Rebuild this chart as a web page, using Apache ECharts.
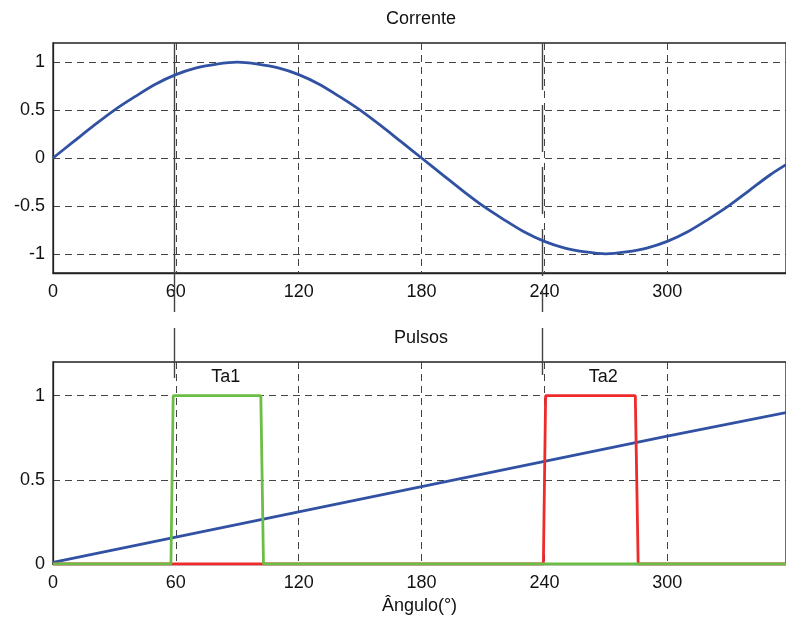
<!DOCTYPE html>
<html>
<head>
<meta charset="utf-8">
<script src="https://cdn.jsdelivr.net/npm/echarts@6/dist/echarts.min.js"></script>
<style>
html,body{margin:0;padding:0;background:#fff;}
#chart{width:786px;height:619px;}
</style>
</head>
<body>
<div id="chart"></div>
<script>
// ---- data ----
const xTicks = [0, 60, 120, 180, 240, 300];
const topYTicks = [-1, -0.5, 0, 0.5, 1];
const bottomYTicks = [0, 0.5, 1];

const currentAngles = [0,10,20,30,40,50,60,70,80,90,100,110,120,130,140,150,160,170,180,190,200,210,220,230,240,250,260,270,280,290,300,310,320,330,340,350,358];
const currentValues = [0,0.17,0.34,0.5,0.64,0.77,0.87,0.94,0.98,1,0.98,0.94,0.87,0.77,0.64,0.5,0.34,0.17,0,-0.17,-0.34,-0.5,-0.64,-0.77,-0.87,-0.94,-0.98,-1,-0.98,-0.94,-0.87,-0.77,-0.64,-0.5,-0.34,-0.18,-0.07];

const rampAngles = [0, 60, 120, 180, 240, 300, 358];
const rampValues = [0.01, 0.16, 0.31, 0.46, 0.61, 0.76, 0.9];

const ta1Angles = [0, 57.6, 58.7, 101.5, 102.8, 358];
const ta1Values = [0, 0, 1, 1, 0, 0];

const ta2Angles = [0, 239.5, 240.6, 284.4, 285.8, 358];
const ta2Values = [0, 0, 1, 1, 0, 0];

const pulseNames = ['Ta1', 'Ta2'];
const pulseNameAngles = [84.6, 269];
const pulseNameValues = [1.105, 1.105];

const markerAngles = [59.2, 238.8];

const titles = ['Corrente', 'Pulsos'];
const xName = 'Ângulo(°)';

// ---- chart ----
const FONT = 'Liberation Sans, Arial, sans-serif';
const TXT = '#111';
const chart = echarts.init(document.getElementById('chart'), null, {renderer: 'canvas'});
const zip = (xs, ys) => xs.map((x, i) => [x, ys[i]]);

const gridLine = {show: true, lineStyle: {color: '#444', width: 1, type: [7, 5]}};
const lbl = {color: TXT, fontSize: 18, fontFamily: FONT};

function xAx(i, extra) {
  return Object.assign({
    type: 'value', gridIndex: i, min: 0, max: 358, interval: 60,
    axisLine: {show: true, onZero: false, lineStyle: {color: '#222', width: 1.3}},
    axisTick: {show: false, customValues: xTicks},
    axisLabel: Object.assign({margin: 10, customValues: xTicks}, lbl),
    splitLine: gridLine
  }, extra || {});
}
function yAx(i, mn, mx, ticks) {
  return {
    type: 'value', gridIndex: i, min: mn, max: mx,
    axisLine: {show: true, lineStyle: {color: '#222', width: 1.3}},
    axisTick: {show: false, customValues: ticks},
    axisLabel: Object.assign({margin: 8, customValues: ticks}, lbl),
    splitLine: gridLine
  };
}

chart.setOption({
  animation: false,
  backgroundColor: '#fff',
  title: [
    {text: titles[0], left: 421, top: 10, textAlign: 'center', padding: 0,
     textStyle: {fontSize: 18, fontWeight: 'normal', color: TXT, fontFamily: FONT}},
    {text: titles[1], left: 421, top: 329, textAlign: 'center', padding: 0,
     textStyle: {fontSize: 18, fontWeight: 'normal', color: TXT, fontFamily: FONT}}
  ],
  grid: [
    {left: 53, right: -2, top: 43, height: 230, show: true, borderColor: '#222', borderWidth: 1.3, backgroundColor: 'transparent'},
    {left: 53, right: -2, top: 362, height: 202, show: true, borderColor: '#222', borderWidth: 1.3, backgroundColor: 'transparent'}
  ],
  xAxis: [
    xAx(0),
    xAx(1, {name: xName, nameLocation: 'middle', nameGap: 33,
            nameTextStyle: {fontSize: 18, color: TXT, fontFamily: FONT}})
  ],
  yAxis: [
    yAx(0, -1.2, 1.2, topYTicks),
    yAx(1, 0, 1.2, bottomYTicks)
  ],
  series: [
    {type: 'line', xAxisIndex: 0, yAxisIndex: 0, data: zip(currentAngles, currentValues),
     smooth: 0.3, showSymbol: false, lineStyle: {color: '#3152a3', width: 2.8}, z: 3},
    {type: 'line', xAxisIndex: 1, yAxisIndex: 1, data: zip(rampAngles, rampValues),
     showSymbol: false, lineStyle: {color: '#3152a3', width: 2.8}, z: 3},
    {type: 'line', xAxisIndex: 1, yAxisIndex: 1, data: zip(ta2Angles, ta2Values),
     showSymbol: false, lineStyle: {color: '#ee2a2a', width: 2.8}, z: 4},
    {type: 'line', xAxisIndex: 1, yAxisIndex: 1, data: zip(ta1Angles, ta1Values),
     showSymbol: false, lineStyle: {color: '#6cbd45', width: 2.8}, z: 5},
    {type: 'scatter', xAxisIndex: 1, yAxisIndex: 1, symbol: 'circle', symbolSize: 1,
     itemStyle: {opacity: 0}, silent: true,
     data: pulseNames.map((n, i) => ({name: n, value: [pulseNameAngles[i], pulseNameValues[i]]})),
     label: {show: true, position: [0, 0], align: 'center', verticalAlign: 'middle',
             formatter: p => p.name, opacity: 1,
             fontSize: 18, color: TXT, fontFamily: FONT}, z: 6}
  ]
});

// vertical marker lines at the firing angles, positioned through the axis scale
function drawMarkers() {
  const els = [];
  markerAngles.forEach((a, i) => {
    const px = Math.round(chart.convertToPixel({xAxisIndex: 0}, a)) + 0.5;
    const dash = i === 0 ? null : [47, 15];
    const segs = [[43, 312], [328, 378]];
    segs.forEach(s => {
      els.push({type: 'line', silent: true, z: 1,
        shape: {x1: px, y1: s[0], x2: px, y2: s[1]},
        style: {stroke: '#444', lineWidth: 1.4, lineDash: dash}});
    });
  });
  chart.setOption({graphic: els});
}
drawMarkers();
</script>
</body>
</html>
